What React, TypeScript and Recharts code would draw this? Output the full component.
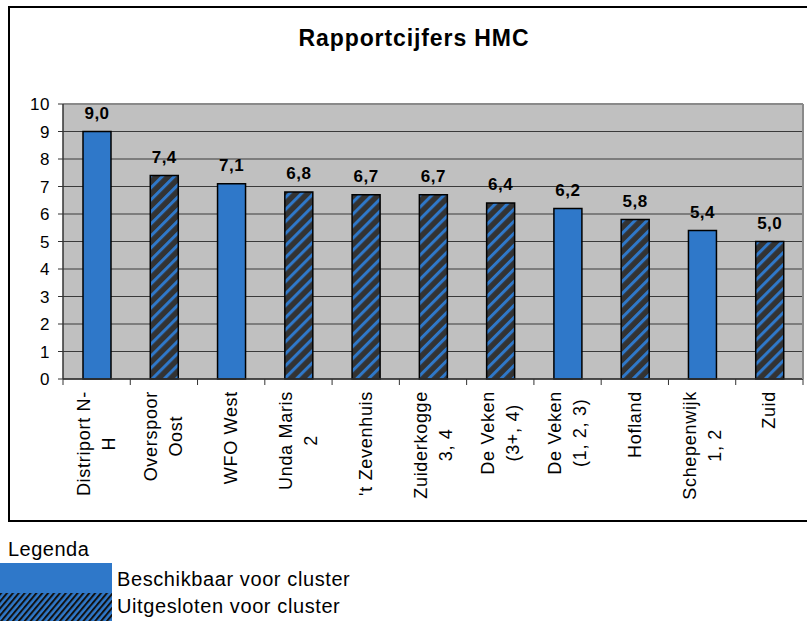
import React from 'react'
import { BarChart, Bar, XAxis, YAxis, CartesianGrid, Cell, LabelList, ReferenceLine } from 'recharts'

const locaties = [
  'Distriport N-|H',
  'Overspoor|Oost',
  'WFO West',
  'Unda Maris|2',
  "'t Zevenhuis",
  'Zuiderkogge|3, 4',
  'De Veken|(3+, 4)',
  'De Veken|(1, 2, 3)',
  'Hofland',
  'Schepenwijk|1, 2',
  'Zuid',
]
const cijfers = [9.0, 7.4, 7.1, 6.8, 6.7, 6.7, 6.4, 6.2, 5.8, 5.4, 5.0]
const uitgesloten = [false, true, false, true, true, true, true, false, true, false, true]
const yTicks = [0, 1, 2, 3, 4, 5, 6, 7, 8, 9, 10]

const FONT = "'Liberation Sans', Arial, sans-serif"
const BLUE = '#2f78c9'
const DARK = '#333333'
const TICK_FS = 18
const TICK_LS = 0.7

const W = 807
const H = 530
const PLOT_LEFT = 63
const PLOT_RIGHT = 803
const BAND = (PLOT_RIGHT - PLOT_LEFT) / locaties.length

const chartData = locaties.map((naam, i) => ({
  naam,
  cijfer: cijfers[i],
  uitgesloten: uitgesloten[i],
}))

let ctx: CanvasRenderingContext2D | null = null
function textWidth(s: string) {
  if (!ctx) {
    ctx = document.createElement('canvas').getContext('2d')
  }
  if (!ctx) return s.length * 9.5
  ctx.font = `${TICK_FS}px ${FONT}`
  return ctx.measureText(s).width + s.length * TICK_LS
}

function CategoryTick(props: any) {
  const { x, y, payload, index } = props
  const lines: string[] = String(payload.value).split('|')
  const maxW = Math.max(...lines.map(textWidth))
  const n = lines.length
  return (
    <g>
      <line x1={x - BAND / 2} x2={x - BAND / 2} y1={y} y2={y + 6} stroke={DARK} strokeWidth={1} />
      {index === locaties.length - 1 && (
        <line x1={x + BAND / 2} x2={x + BAND / 2} y1={y} y2={y + 6} stroke={DARK} strokeWidth={1} />
      )}
      <g transform={`translate(${x},${y + 12}) rotate(-90)`}>
        <text fontFamily={FONT} fontSize={TICK_FS} fill="#000" textAnchor="middle" style={{ letterSpacing: TICK_LS }}>
          {lines.map((l, i) => (
            <tspan key={i} x={-maxW / 2} y={(i - (n - 1) / 2) * 25 + 6}>
              {l}
            </tspan>
          ))}
        </text>
      </g>
    </g>
  )
}

function ValueLabel(props: any) {
  const { x, y, width, value } = props
  return (
    <text
      x={x + width / 2}
      y={y - 13}
      textAnchor="middle"
      fontFamily={FONT}
      fontWeight="bold"
      fontSize={17}
      fill="#000"
      style={{ letterSpacing: 0.5 }}
    >
      {Number(value).toFixed(1).replace('.', ',')}
    </text>
  )
}

export default function App() {
  return (
    <div style={{ position: 'absolute', left: 0, top: 0, width: 807, height: 621, overflow: 'hidden', fontFamily: FONT }}>
      <div
        style={{
          position: 'absolute',
          left: 8,
          top: 6,
          width: 840,
          height: 516,
          border: '2px solid #000',
          boxSizing: 'border-box',
        }}
      />
      <div
        style={{
          position: 'absolute',
          left: 0,
          top: 25,
          width: 828,
          textAlign: 'center',
          fontSize: 23,
          fontWeight: 'bold',
          letterSpacing: 0.9,
        }}
      >
        Rapportcijfers HMC
      </div>
      <div style={{ position: 'absolute', left: 0, top: 0 }}>
        <BarChart width={W} height={H} data={chartData} margin={{ top: 104, right: W - PLOT_RIGHT, left: 8, bottom: 31 }}>
          <defs>
            <pattern id="streep" patternUnits="userSpaceOnUse" width={8.5} height={8.5} patternTransform="rotate(45)">
              <rect x={0} y={0} width={8.5} height={8.5} fill={DARK} />
              <rect x={0} y={0} width={3} height={8.5} fill={BLUE} />
            </pattern>
          </defs>
          <CartesianGrid vertical={false} fill="#c0c0c0" fillOpacity={1} stroke="#3a3a3a" strokeWidth={1} />
          <ReferenceLine y={10} stroke="#8a8a8a" strokeWidth={2} />
          <XAxis
            dataKey="naam"
            interval={0}
            height={120}
            tickSize={0}
            tickMargin={0}
            axisLine={{ stroke: DARK, strokeWidth: 1.5 }}
            tick={<CategoryTick />}
          />
          <YAxis
            width={55}
            domain={[0, 10]}
            ticks={yTicks}
            interval={0}
            tickSize={5}
            tickMargin={8}
            axisLine={{ stroke: DARK, strokeWidth: 1.5 }}
            tickLine={{ stroke: DARK }}
            tick={{ fontFamily: FONT, fontSize: 17, fill: '#000', style: { letterSpacing: 0.6 } }}
          />
          <Bar dataKey="cijfer" barSize={28} stroke="#000" strokeWidth={1.5} isAnimationActive={false}>
            {chartData.map((d, i) => (
              <Cell key={i} fill={d.uitgesloten ? 'url(#streep)' : BLUE} />
            ))}
            <LabelList dataKey="cijfer" content={<ValueLabel />} />
          </Bar>
        </BarChart>
      </div>
      <div style={{ position: 'absolute', left: PLOT_RIGHT - 1, top: 104, width: 2, height: 275, background: '#8a8a8a' }} />
      <svg style={{ position: 'absolute', left: 0, top: 530 }} width={807} height={91}>
        <defs>
          <pattern id="legStreep" patternUnits="userSpaceOnUse" width={4.5} height={4.5} patternTransform="rotate(40)">
            <rect x={0} y={0} width={4.5} height={4.5} fill={BLUE} />
            <rect x={0} y={0} width={2} height={4.5} fill="#111" />
          </pattern>
        </defs>
        <text x={8} y={26} fontFamily={FONT} fontSize={20} fill="#000" style={{ letterSpacing: 0.5 }}>Legenda</text>
        <rect x={0} y={33} width={112} height={30} fill={BLUE} />
        <rect x={0} y={63} width={112} height={30} fill="url(#legStreep)" />
        <text x={117} y={56} fontFamily={FONT} fontSize={20} fill="#000" style={{ letterSpacing: 0.6 }}>Beschikbaar voor cluster</text>
        <text x={117} y={83} fontFamily={FONT} fontSize={20} fill="#000" style={{ letterSpacing: 0.6 }}>Uitgesloten voor cluster</text>
      </svg>
    </div>
  )
}
